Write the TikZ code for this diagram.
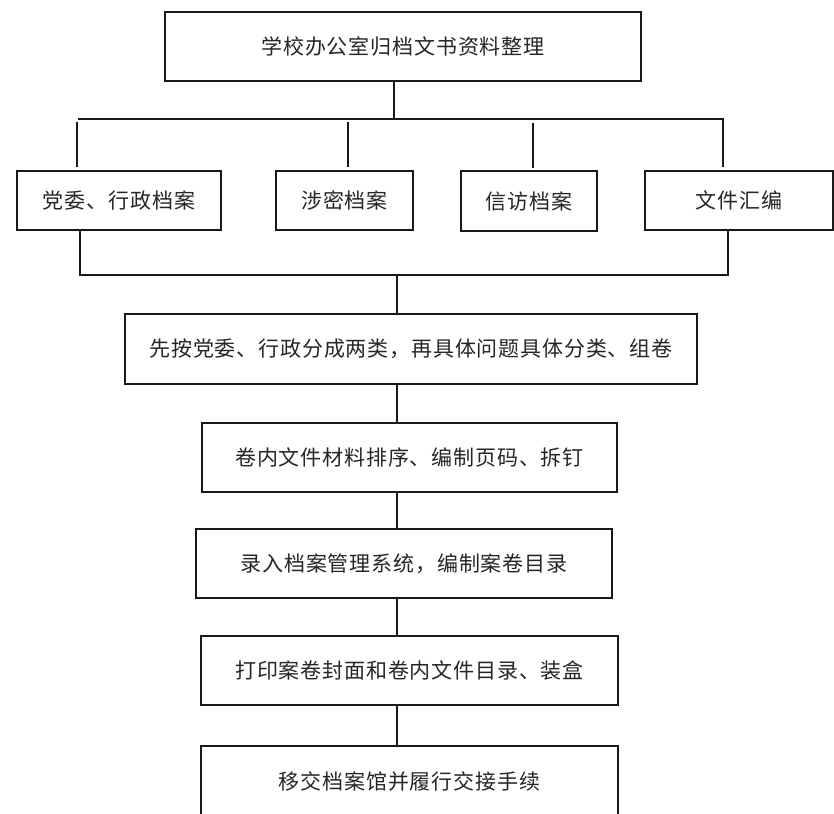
\documentclass[tikz,border=0pt]{standalone}
\usepackage{fontspec}
\newfontfamily\cjk[LetterSpace=4]{Noto Sans CJK SC}
\begin{document}
\begin{tikzpicture}[x=1pt,y=-1pt,
  box/.style={draw=black!90, line width=1.6pt, fill=white, inner sep=0pt,
    font=\cjk\fontsize{21}{24}\selectfont, text=black!85},
  conn/.style={draw=black!90, line width=1.6pt}]
\useasboundingbox (0,0) rectangle (834,813);
% nodes
\node[box, minimum width=476pt, minimum height=69pt] (top) at (403,46.5) {学校办公室归档文书资料整理};
\node[box, minimum width=204pt, minimum height=59pt] (b1) at (119,200.5) {党委、行政档案};
\node[box, minimum width=137pt, minimum height=59pt] (b2) at (344.5,200.5) {涉密档案};
\node[box, minimum width=136pt, minimum height=60pt] (b3) at (529,201) {信访档案};
\node[box, minimum width=188pt, minimum height=59pt] (b4) at (739,200.5) {文件汇编};
\node[box, minimum width=572pt, minimum height=70pt] (s1) at (411,349) {先按党委、行政分成两类，再具体问题具体分类、组卷};
\node[box, minimum width=415pt, minimum height=69pt] (s2) at (409.5,457.5) {卷内文件材料排序、编制页码、拆钉};
\node[box, minimum width=416pt, minimum height=69pt] (s3) at (404,563.5) {录入档案管理系统，编制案卷目录};
\node[box, minimum width=417pt, minimum height=69pt] (s4) at (409.5,670.5) {打印案卷封面和卷内文件目录、装盒};
\node[box, minimum width=417pt, minimum height=70pt] (s5) at (409.5,781) {移交档案馆并履行交接手续};
% upper bus
\coordinate (busT) at (394,119);
\coordinate (busL) at (78,119);
\coordinate (busR) at (723,119);
\coordinate (d1a) at (77,122);  \coordinate (d1b) at (77,167);
\coordinate (d2a) at (348,122); \coordinate (d2b) at (348,167);
\coordinate (d3a) at (533,123); \coordinate (d3b) at (533,168);
\coordinate (d4b) at (723,167);
\draw[conn] (top.south -| busT) -- (busT);
\draw[conn] (busL) -- (busR) -- (d4b);
\draw[conn] (d1a) -- (d1b);
\draw[conn] (d2a) -- (d2b);
\draw[conn] (d3a) -- (d3b);
% lower bus
\coordinate (lbL) at (80,275);
\coordinate (lbR) at (728,275);
\coordinate (lbC) at (397,275);
\draw[conn] (b1.south -| lbL) -- (lbL) -- (lbR) -- (b4.south -| lbR);
\draw[conn] (lbC) -- (s1.north -| lbC);
% steps
\coordinate (sx) at (397,0);
\draw[conn] (s1.south -| sx) -- (s2.north -| sx);
\draw[conn] (s2.south -| sx) -- (s3.north -| sx);
\draw[conn] (s3.south -| sx) -- (s4.north -| sx);
\draw[conn] (s4.south -| sx) -- (s5.north -| sx);
\end{tikzpicture}
\end{document}
